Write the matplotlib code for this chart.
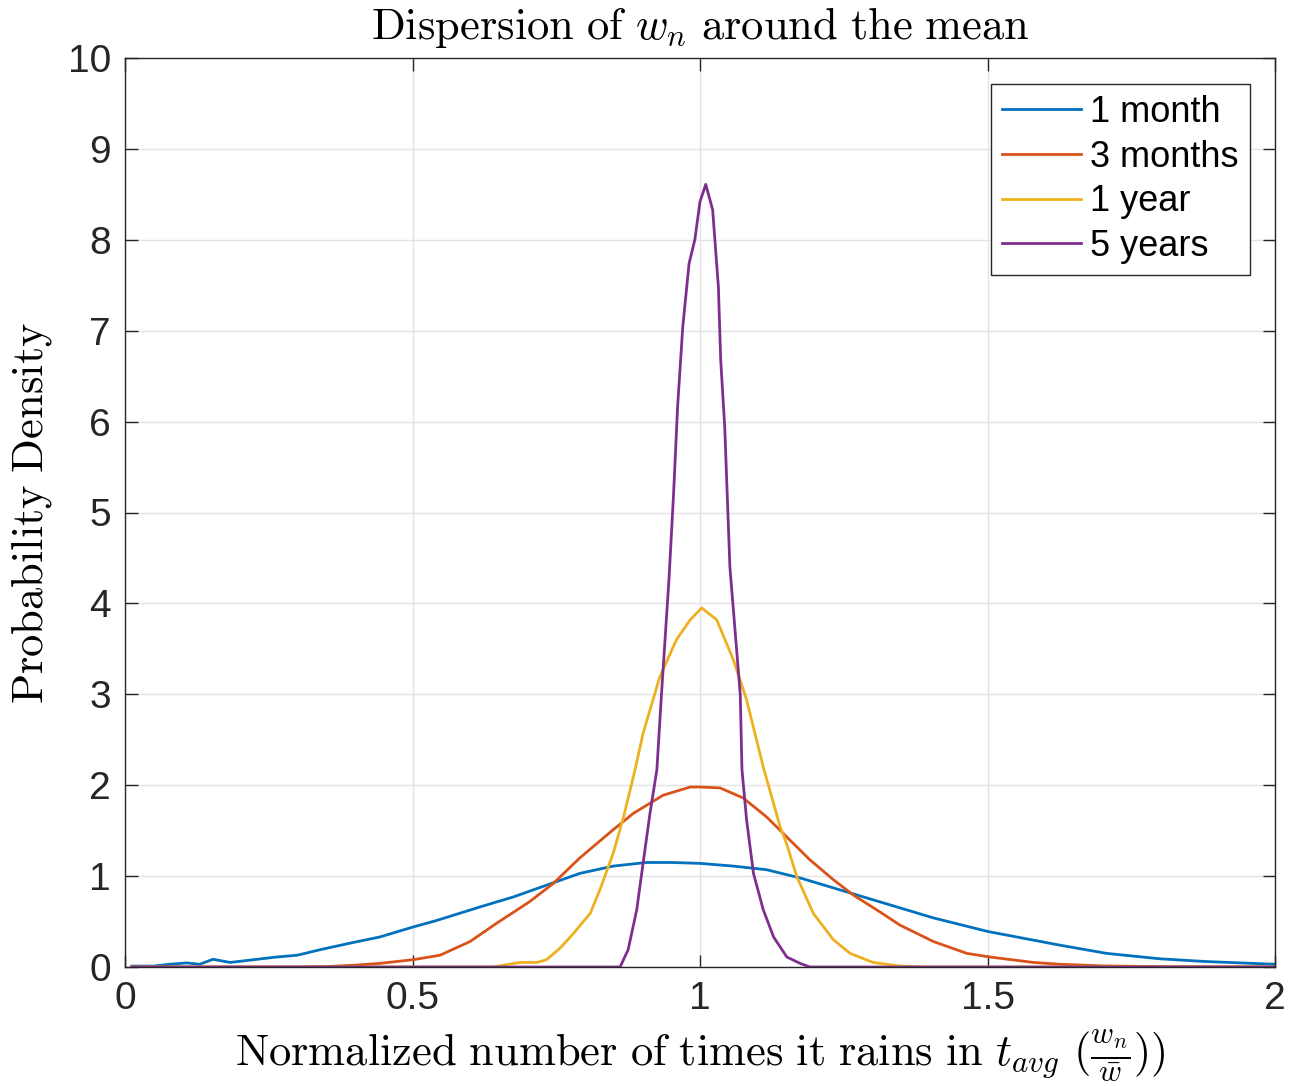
import matplotlib
matplotlib.use("Agg")
import matplotlib.pyplot as plt

plt.rcParams['mathtext.fontset'] = 'cm'
plt.rcParams['font.family'] = ['Liberation Sans', 'DejaVu Sans']

labels = ["1 month", "3 months", "1 year", "5 years"]
colors = ["#0072BD", "#D95319", "#EDB120", "#7E2F8E"]

x_month = [0.012, 0.05, 0.078, 0.107, 0.13, 0.153, 0.183, 0.223, 0.264, 0.3, 0.339, 0.397, 0.443,
           0.501, 0.541, 0.617, 0.675, 0.733, 0.791, 0.849, 0.907, 0.95, 1.0, 1.058, 1.116, 1.174,
           1.232, 1.29, 1.348, 1.406, 1.501, 1.626, 1.707, 1.8, 1.88, 1.96, 2.0]
y_month = [0.01, 0.01, 0.03, 0.045, 0.03, 0.085, 0.05, 0.08, 0.11, 0.13, 0.19, 0.27, 0.33,
           0.44, 0.51, 0.66, 0.77, 0.90, 1.03, 1.11, 1.15, 1.15, 1.14, 1.11, 1.07, 0.98,
           0.87, 0.76, 0.65, 0.54, 0.39, 0.24, 0.15, 0.09, 0.06, 0.04, 0.03]

x_3month = [0.012, 0.3, 0.35, 0.4, 0.443, 0.501, 0.548, 0.6, 0.646, 0.704, 0.745, 0.791, 0.849,
            0.884, 0.936, 0.983, 1.0, 1.035, 1.075, 1.116, 1.151, 1.191, 1.232, 1.267, 1.307,
            1.348, 1.406, 1.464, 1.504, 1.58, 1.626, 1.7, 1.8, 2.0]
y_3month = [0.0, 0.0, 0.005, 0.02, 0.04, 0.08, 0.13, 0.28, 0.48, 0.72, 0.92, 1.20, 1.51,
            1.69, 1.89, 1.98, 1.98, 1.97, 1.86, 1.65, 1.43, 1.18, 0.96, 0.79, 0.63,
            0.46, 0.28, 0.15, 0.11, 0.05, 0.03, 0.012, 0.004, 0.0]

x_year = [0.012, 0.64, 0.658, 0.687, 0.716, 0.733, 0.757, 0.78, 0.809, 0.826, 0.849, 0.867, 0.887,
          0.901, 0.930, 0.959, 0.983, 1.003, 1.029, 1.058, 1.081, 1.11, 1.139, 1.151, 1.168,
          1.197, 1.232, 1.261, 1.301, 1.348, 1.4, 2.0]
y_year = [0.0, 0.0, 0.02, 0.05, 0.05, 0.08, 0.21, 0.37, 0.59, 0.85, 1.25, 1.65, 2.17,
          2.57, 3.19, 3.6, 3.82, 3.95, 3.82, 3.38, 2.94, 2.2, 1.55, 1.35, 1.0,
          0.59, 0.30, 0.15, 0.05, 0.01, 0.0, 0.0]

x_5year = [0.012, 0.861, 0.875, 0.89, 0.901, 0.913, 0.925, 0.933, 0.946, 0.954, 0.961, 0.970,
           0.981, 0.991, 1.0, 1.010, 1.022, 1.032, 1.036, 1.043, 1.052, 1.070, 1.073, 1.081,
           1.093, 1.110, 1.128, 1.151, 1.174, 1.191, 2.0]
y_5year = [0.0, 0.0, 0.19, 0.63, 1.14, 1.69, 2.17, 3.0, 4.26, 5.2, 6.16, 7.04,
           7.74, 8.0, 8.42, 8.61, 8.33, 7.48, 6.68, 5.94, 4.4, 3.0, 2.17, 1.62,
           1.03, 0.63, 0.33, 0.11, 0.04, 0.0, 0.0]

xticks = [0, 0.5, 1, 1.5, 2]
xticklabels = ["0", "0.5", "1", "1.5", "2"]
yticks = list(range(0, 11))

fig = plt.figure(figsize=(13.03, 10.86), dpi=100)
ax = fig.add_axes([125 / 1303, 119 / 1086, 1150 / 1303, 909 / 1086])

series = [(x_month, y_month), (x_3month, y_3month), (x_year, y_year), (x_5year, y_5year)]
for (xs, ys), lab, c in zip(series, labels, colors):
    ax.plot(xs, ys, color=c, lw=2.0, label=lab, solid_joinstyle='round')

ax.set_xlim(0, 2)
ax.set_ylim(0, 10)
ax.set_xticks(xticks)
ax.set_xticklabels(xticklabels)
ax.set_yticks(yticks)
ax.grid(True, color='#e3e3e3', lw=1.0)
ax.set_axisbelow(True)
ax.tick_params(direction='in', length=9, width=1.0, colors='#262626', labelsize=28,
               top=True, right=True, pad=10)
for sp in ax.spines.values():
    sp.set_color('#262626')
    sp.set_linewidth(1.0)

ax.set_title(r'$\mathrm{Dispersion\ of\ }w_n\mathrm{\ around\ the\ mean}$', fontsize=32, pad=14)
ax.set_ylabel(r'$\mathrm{Probability\ Density}$', fontsize=32, labelpad=10)
ax.set_xlabel(r'$\mathrm{Normalized\ number\ of\ times\ it\ rains\ in\ }t_{avg}\ (\frac{w_n}{\bar{w}}))$',
              fontsize=32, labelpad=7)

leg = ax.legend(loc='upper right', bbox_to_anchor=(0.978, 0.9714), fontsize=26, frameon=True,
                fancybox=False, edgecolor='#262626', framealpha=1, handlelength=2.2,
                handletextpad=0.25, borderpad=0.3, labelspacing=0.27, borderaxespad=0)
leg.get_frame().set_linewidth(1.0)

fig.savefig("out.png", dpi=100)
